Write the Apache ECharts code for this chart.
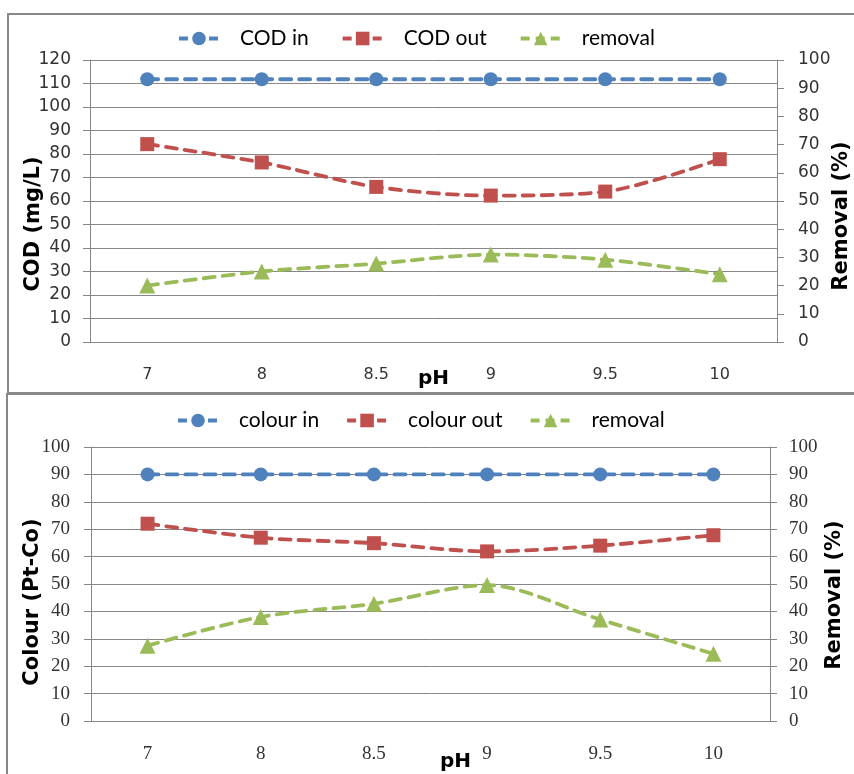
<!DOCTYPE html>
<html>
<head>
<meta charset="utf-8">
<script src="https://cdn.jsdelivr.net/npm/echarts@6/dist/echarts.min.js"></script>
<style>
html,body{margin:0;padding:0;background:#fff;}
#c{width:854px;height:774px;}
</style>
</head>
<body>
<div id="c"></div>
<script>
const categories = ['7', '8', '8.5', '9', '9.5', '10'];
const codIn = [111.8, 111.8, 111.8, 111.8, 111.8, 111.8];
const codOut = [84.2, 76.4, 66, 62.3, 64, 77.8];
const codRemoval = [20, 25, 27.8, 31, 29.2, 24];
const colourIn = [90, 90, 90, 90, 90, 90];
const colourOut = [72, 66.9, 64.9, 61.9, 64, 67.8];
const colourRemoval = [27.5, 38, 42.8, 49.6, 37, 24.5];
const leftTicksTop = {min: 0, max: 120, interval: 10};
const rightTicks = {min: 0, max: 100, interval: 10};
const leftTicksBottom = {min: 0, max: 100, interval: 10};

const BLUE = '#4F81BD', RED = '#C0504D', GREEN = '#9BBB59';
const GRID_C = '#878787';
const TXT = '#333';
const SANS = 'DejaVu Sans';
const SERIF = 'Liberation Serif';

function mkSeries(name, data, color, symbol, size, xi, yi) {
  return {
    name: name, type: 'line', data: data,
    xAxisIndex: xi, yAxisIndex: yi,
    smooth: 0.3,
    symbol: symbol, symbolSize: size,
    itemStyle: {color: color},
    lineStyle: {color: color, width: 3.8, type: [11, 8], cap: 'round'},
    emphasis: {disabled: true},
    z: 3
  };
}

function yAx(grid, ticks, pos, name, font, fsize, gap, pad, split, margin) {
  return {
    type: 'value', gridIndex: grid, position: pos,
    min: ticks.min, max: ticks.max, interval: ticks.interval,
    name: name, nameLocation: 'middle', nameGap: gap, nameRotate: 90,
    nameMoveOverlap: false,
    nameTextStyle: {fontFamily: SANS, fontWeight: 'bold', fontSize: 21, color: '#000', padding: pad},
    axisLine: {show: true, lineStyle: {color: GRID_C, width: 1}},
    axisTick: {show: true, inside: false, length: 7, lineStyle: {color: GRID_C}},
    axisLabel: {fontFamily: font, fontSize: fsize, color: TXT, margin: margin},
    splitLine: {show: split, lineStyle: {color: GRID_C, width: 1}}
  };
}

function xAx(grid, font, fsize, margin, gap, pad) {
  return {
    type: 'category', gridIndex: grid, data: categories, boundaryGap: true,
    name: 'pH', nameLocation: 'middle', nameGap: gap,
    nameMoveOverlap: false,
    nameTextStyle: {fontFamily: SANS, fontWeight: 'bold', fontSize: 20, color: '#000', padding: pad},
    axisLine: {show: true, lineStyle: {color: GRID_C, width: 1}},
    axisTick: {show: false},
    axisLabel: {fontFamily: font, fontSize: fsize, color: TXT, margin: margin}
  };
}

const legendCommon = {
  itemWidth: 40, itemHeight: 17,
  lineStyle: {width: 4, type: [9, 6], cap: 'butt'},
  textStyle: {fontFamily: 'Lato', fontSize: 21, color: '#000', padding: [0, 0, 0, 16]}
};

const chart = echarts.init(document.getElementById('c'), null, {renderer: 'canvas'});
chart.setOption({
  animation: false,
  backgroundColor: '#fff',
  graphic: [
    {type: 'rect', shape: {x: 8, y: 14, width: 870, height: 379}, style: {fill: 'none', stroke: '#888', lineWidth: 2}, z: -1},
    {type: 'rect', shape: {x: 7, y: 394, width: 870, height: 400}, style: {fill: 'none', stroke: '#888', lineWidth: 2}, z: -1}
  ],
  legend: [
    Object.assign({top: 23, left: 172, itemGap: 32, data: ['COD in', 'COD out', 'removal']}, legendCommon),
    Object.assign({top: 405, left: 171, itemGap: 26, data: ['colour in', 'colour out', 'removal ']}, legendCommon)
  ],
  grid: [
    {left: 90, top: 60, right: 77, height: 282, containLabel: false, outerBoundsMode: 'none'},
    {left: 91, top: 447, right: 84, height: 274, containLabel: false, outerBoundsMode: 'none'}
  ],
  xAxis: [
    xAx(0, SANS, 16, 25, 27, [0, 0, 0, 0]),
    xAx(1, SERIF, 19, 24, 31, [0, 0, 0, 50])
  ],
  yAxis: [
    yAx(0, leftTicksTop, 'left', 'COD (mg/L)', SANS, 17, 46, [0, 46, 0, 0], true, 19),
    yAx(0, rightTicks, 'right', 'Removal (%)', SANS, 17, 54, [0, 30, 0, 0], false, 21),
    yAx(1, leftTicksBottom, 'left', 'Colour (Pt-Co)', SERIF, 19, 48, [0, 36, 0, 0], true, 21),
    yAx(1, rightTicks, 'right', 'Removal (%)', SERIF, 19, 54, [0, 22, 0, 0], false, 19)
  ],
  series: [
    mkSeries('COD in', codIn, BLUE, 'circle', 14, 0, 0),
    mkSeries('COD out', codOut, RED, 'rect', 14, 0, 0),
    mkSeries('removal', codRemoval, GREEN, 'triangle', 16, 0, 1),
    mkSeries('colour in', colourIn, BLUE, 'circle', 14, 1, 2),
    mkSeries('colour out', colourOut, RED, 'rect', 14, 1, 2),
    mkSeries('removal ', colourRemoval, GREEN, 'triangle', 16, 1, 3)
  ]
});
</script>
</body>
</html>
